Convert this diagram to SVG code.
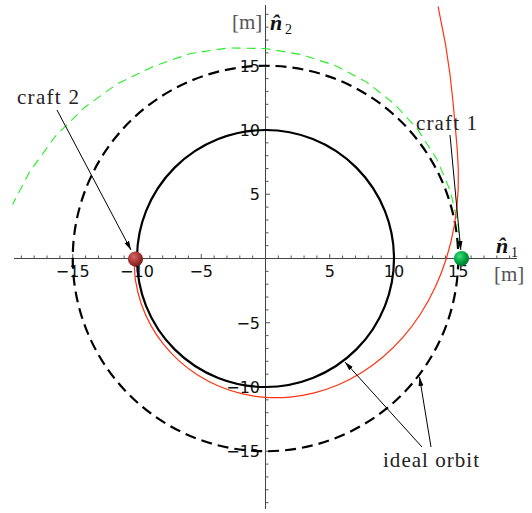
<svg xmlns="http://www.w3.org/2000/svg" width="532" height="513" viewBox="0 0 532 513">
<defs>
<style>
.axis{stroke:#444;stroke-width:1;fill:none}
.tick{stroke:#555;stroke-width:1;fill:none}
.tl{font-family:"DejaVu Sans",sans-serif;font-size:16px;fill:#111}
.lab{font-family:"Liberation Serif",serif;font-size:21px;fill:#222}
.unit{font-family:"Liberation Serif",serif;font-size:21px;fill:#555}
.vec{font-family:"Liberation Serif",serif;font-size:22px;font-weight:bold;font-style:italic;fill:#111}
.sub{font-family:"Liberation Serif",serif;font-size:14px;fill:#111}
.orbit{fill:none;stroke:#000;stroke-width:2.2}
.arrow{stroke:#000;stroke-width:1;fill:none;marker-end:url(#ah)}
</style>
<marker id="ah" markerWidth="10" markerHeight="8" refX="9" refY="4" orient="auto" markerUnits="userSpaceOnUse">
<path d="M0,1.5 L9,4 L0,6.5 z" fill="#000"/>
</marker>
<radialGradient id="gRed" cx="0.38" cy="0.35" r="0.7">
<stop offset="0" stop-color="#d26a6a"/>
<stop offset="0.55" stop-color="#a83434"/>
<stop offset="1" stop-color="#6e1c1c"/>
</radialGradient>
<radialGradient id="gGreen" cx="0.38" cy="0.35" r="0.7">
<stop offset="0" stop-color="#3fe07a"/>
<stop offset="0.55" stop-color="#00a640"/>
<stop offset="1" stop-color="#00702a"/>
</radialGradient>
</defs>
<rect width="532" height="513" fill="#fff"/>

<g id="axes">
<path class="axis" d="M14,258.5 H517 M265.5,5 V509"/>
<path class="tick" d="M278.35,258.5v-3M291.2,258.5v-3M304.05,258.5v-3M316.9,258.5v-3M342.6,258.5v-3M355.45,258.5v-3M368.3,258.5v-3M381.15,258.5v-3M406.85,258.5v-3M419.7,258.5v-3M432.55,258.5v-3M445.4,258.5v-3M471.1,258.5v-3M483.95,258.5v-3M496.8,258.5v-3M509.65,258.5v-3M252.65,258.5v-3M239.8,258.5v-3M226.95,258.5v-3M214.1,258.5v-3M188.4,258.5v-3M175.55,258.5v-3M162.7,258.5v-3M149.85,258.5v-3M124.15,258.5v-3M111.3,258.5v-3M98.45,258.5v-3M85.6,258.5v-3M59.9,258.5v-3M47.05,258.5v-3M34.2,258.5v-3M21.35,258.5v-3"/>
<path class="tick" d="M329.75,258.5v-4.5M394,258.5v-4.5M458.25,258.5v-4.5M201.25,258.5v-4.5M137,258.5v-4.5M72.75,258.5v-4.5"/>
<path class="tick" d="M265.5,245.65h3M265.5,232.8h3M265.5,219.95h3M265.5,207.1h3M265.5,181.4h3M265.5,168.55h3M265.5,155.7h3M265.5,142.85h3M265.5,117.15h3M265.5,104.3h3M265.5,91.45h3M265.5,78.6h3M265.5,52.9h3M265.5,40.05h3M265.5,27.2h3M265.5,14.35h3M265.5,271.35h3M265.5,284.2h3M265.5,297.05h3M265.5,309.9h3M265.5,335.6h3M265.5,348.45h3M265.5,361.3h3M265.5,374.15h3M265.5,399.85h3M265.5,412.7h3M265.5,425.55h3M265.5,438.4h3M265.5,464.1h3M265.5,476.95h3M265.5,489.8h3M265.5,502.65h3"/>
<path class="tick" d="M265.5,194.25h4.5M265.5,130h4.5M265.5,65.75h4.5M265.5,322.75h4.5M265.5,387h4.5M265.5,451.25h4.5"/>
<g class="tl" text-anchor="middle">
<text x="72.75" y="277">−15</text>
<text x="137" y="277">−10</text>
<text x="201.25" y="277">−5</text>
<text x="329.75" y="277">5</text>
<text x="394" y="277">10</text>
<text x="458.25" y="277">15</text>
</g>
<g class="tl" text-anchor="end">
<text x="260" y="71.5">15</text>
<text x="260" y="135.8">10</text>
<text x="260" y="200">5</text>
<text x="260" y="328.5">−5</text>
<text x="260" y="392.8">−10</text>
<text x="260" y="457">−15</text>
</g>
<text class="unit" x="232" y="29">[m]</text>
<text class="vec" x="270" y="30">n̂</text>
<text class="sub" x="285" y="34">2</text>
<text class="vec" x="496" y="253">n̂</text>
<text class="sub" x="511" y="257">1</text>
<text class="unit" x="494" y="281">[m]</text>
</g>

<g id="ideal-orbit-inner">
<circle class="orbit" cx="265.5" cy="258.5" r="128.5"/>
</g>
<g id="ideal-orbit-outer">
<circle class="orbit" cx="265.5" cy="258.5" r="192.75" stroke-dasharray="11 6"/>
</g>
<g id="path-craft1">
<polyline fill="none" stroke="#22ee22" stroke-width="1.1" stroke-dasharray="9 6" points="460.0,247.8 458.0,224.0 450.2,190.6 436.7,158.9 417.9,129.7 394.3,103.9 366.6,82.1 335.2,65.5 301,54.5 265,48.5 228,48 190.5,53.5 153,66.5 117,84 84.4,107.5 54.7,137 29.2,172.5 12.6,204.4"/>
</g>
<g id="path-craft2">
<path fill="none" stroke="#ff3311" stroke-width="1.2" stroke-linejoin="round" d="M133.98,258.5 C134.26,262.32 134.44,273.85 135.65,281.39 C136.86,288.93 138.75,296.49 141.23,303.73 C143.72,310.98 146.87,318.12 150.56,324.86 C154.25,331.61 158.58,338.15 163.38,344.2 C168.18,350.25 173.57,355.98 179.35,361.17 C185.13,366.36 191.44,371.14 198.05,375.32 C204.66,379.5 211.73,383.2 219,386.25 C226.27,389.31 233.92,391.81 241.67,393.65 C249.42,395.49 257.46,396.73 265.5,397.29 C273.54,397.86 281.77,397.78 289.92,397.04 C298.07,396.3 306.32,394.91 314.4,392.86 C322.48,390.81 330.56,388.1 338.39,384.75 C346.22,381.4 353.97,377.39 361.39,372.77 C368.82,368.15 376.07,362.9 382.94,357.05 C389.81,351.2 396.43,344.71 402.61,337.66 C408.79,330.61 414.66,322.95 420.01,314.73 C425.36,306.51 430.33,297.7 434.72,288.33 C439.11,278.96 443.07,269.02 446.35,258.5 L450.85,242.28 L454.38,225.2 L456.89,207.22 L458.22,188.36 L458.3,168.6 L457.11,147.87 L455.18,125.68 L452.94,101.21 L449.95,74.05 L445.48,44.02 L438.93,10.82 L438.2,6.5"/>
</g>

<g id="connectors">
<path class="arrow" d="M57,110 L131,250"/>
<path class="arrow" d="M450,135 L460.8,250"/>
<path class="arrow" d="M422,447 L345,362"/>
<path class="arrow" d="M431,447 L419.5,377"/>
</g>

<g id="craft2">
<circle cx="135.5" cy="259" r="7.6" fill="url(#gRed)"/>
<text class="lab" x="17" y="104" textLength="62">craft 2</text>
</g>
<g id="craft1">
<circle cx="461.5" cy="258.5" r="7.6" fill="url(#gGreen)"/>
<text class="lab" x="416" y="129.5" textLength="61">craft 1</text>
</g>
<g id="label-ideal">
<text class="lab" x="383" y="467" textLength="96">ideal orbit</text>
</g>
</svg>
